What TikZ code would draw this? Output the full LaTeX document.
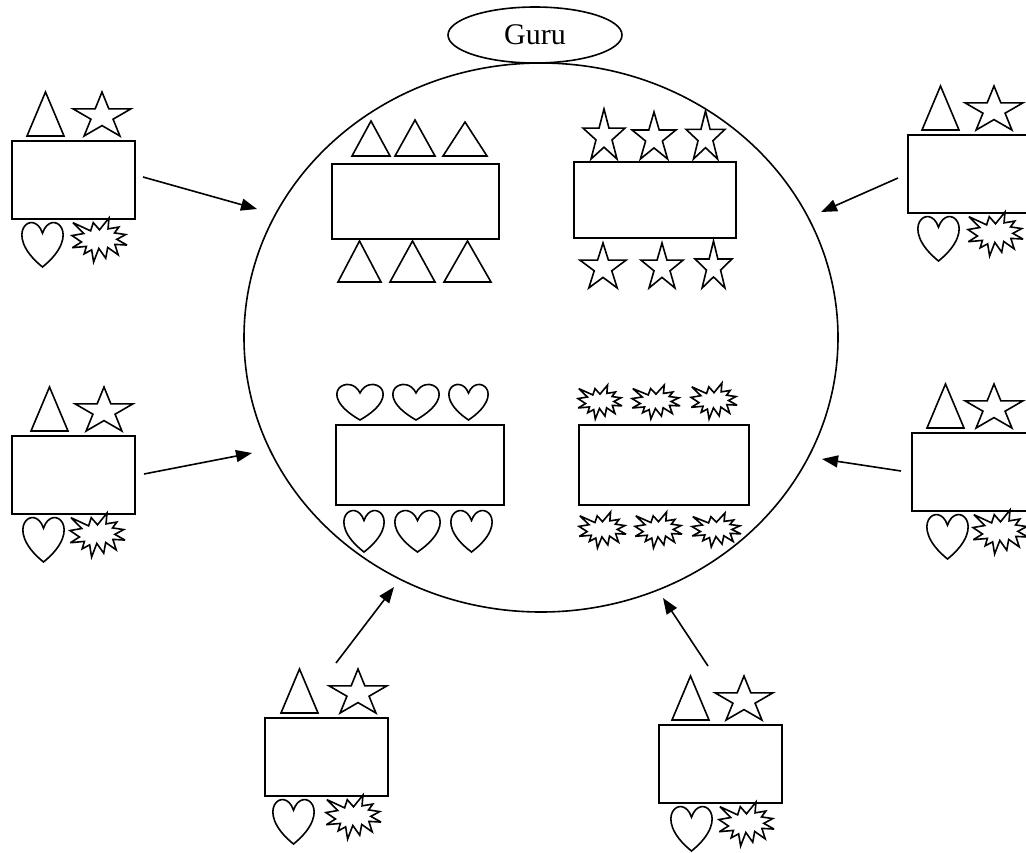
\documentclass[tikz,border=0pt]{standalone}
\usepackage{fontspec}
\setmainfont{Liberation Serif}
\usetikzlibrary{shapes.geometric,arrows.meta}
\tikzset{
  box/.style={draw, rectangle, inner sep=0pt},
  oval/.style={draw, ellipse, inner sep=0pt},
  arr/.style={-{Triangle[length=16pt,width=12pt]}},
  trianglepic/.pic={\draw[line join=miter] (0,1) -- (0.5,0) -- (1,1) -- cycle;},
  starpic/.pic={\draw[line join=miter] (0.5,0) -- (0.618,0.382) -- (1,0.382) -- (0.691,0.618) -- (0.809,1) -- (0.5,0.764) -- (0.191,1) -- (0.309,0.618) -- (0,0.382) -- (0.382,0.382) -- cycle;},
  heartpic/.pic={\draw (0.5,0.25) .. controls (0.7083,-0.3333) and (1.5208,0.25) .. (0.5,1) .. controls (-0.5208,0.25) and (0.2917,-0.3333) .. (0.5,0.25) -- cycle;},
  burstpic/.pic={\draw[line join=miter,miter limit=4] (0.5,0.2685) -- (0.6723,0) -- (0.6553,0.2465) -- (0.8509,0.2063) -- (0.7732,0.3387) -- (0.9767,0.3767) -- (0.8151,0.485) -- (1,0.6153) -- (0.7795,0.5992) -- (0.8400,0.8377) -- (0.6491,0.6693) -- (0.6133,0.9137) -- (0.4876,0.6914) -- (0.3928,1) -- (0.3572,0.7235) -- (0.2205,0.8156) -- (0.2624,0.6452) -- (0.00625,0.6753) -- (0.1723,0.5451) -- (0,0.3988) -- (0.2142,0.3526) -- (0.0171,0.1063) -- (0.3385,0.2926) -- (0.3867,0.1063) -- cycle;}
}
\newcommand\shp[5]{\pic[xscale={(#4)-(#2)}, yscale={(#5)-(#3)}] at ({#2},{#3}) {#1};}
\newcommand\grp[7]{% name, rx, ry, tri x, star x, heart x, burst x
  \node[box, minimum width=123pt, minimum height=78pt] (#1) at ({#2+61.5},{#3+39}) {};
  \shp{trianglepic}{#4}{#3-49}{#4+37}{#3-5}
  \shp{starpic}{#5}{#3-49}{#5+58}{#3-5}
  \shp{heartpic}{#6}{#3+81}{#6+41}{#3+126}
  \shp{burstpic}{#7}{#3+77}{#7+55}{#3+121}
}
\begin{document}
\begin{tikzpicture}[x=1pt,y=-1pt,line width=1.6pt]
\clip (0,0) rectangle (1026,852);
% main circle and guru
\node[oval, minimum width=594pt, minimum height=549pt] (class) at (541,337.5) {};
\node[oval, minimum width=174pt, minimum height=56pt, font=\fontsize{30}{36}\selectfont] (guru) at (535,35) {Guru};
% inner groups
\node[box, minimum width=167pt, minimum height=75pt] (tl) at (415.5,201.5) {};
\shp{trianglepic}{352}{121}{390}{156}
\shp{trianglepic}{395}{120}{435}{156}
\shp{trianglepic}{443}{122}{487}{156}
\shp{trianglepic}{338}{241}{381}{282}
\shp{trianglepic}{390}{241}{435}{282}
\shp{trianglepic}{444}{241}{491}{282}
\node[box, minimum width=162pt, minimum height=76pt] (tr) at (655,200) {};
\shp{starpic}{583}{109}{625}{159}
\shp{starpic}{632}{112}{676}{159}
\shp{starpic}{686}{111}{725}{159}
\shp{starpic}{580}{243}{626}{288}
\shp{starpic}{641}{243}{683}{288}
\shp{starpic}{695}{241}{732}{288}
\node[box, minimum width=168pt, minimum height=80pt] (bl) at (420,465) {};
\shp{heartpic}{337}{384}{383}{420}
\shp{heartpic}{393}{384}{439}{420}
\shp{heartpic}{449}{384}{488}{420}
\shp{heartpic}{344}{510}{384}{552}
\shp{heartpic}{395}{510}{440}{552}
\shp{heartpic}{451}{510}{492}{552}
\node[box, minimum width=170pt, minimum height=80pt] (br) at (664,465) {};
\shp{burstpic}{578}{385}{622}{419}
\shp{burstpic}{632}{385}{680}{419}
\shp{burstpic}{691}{383}{737}{419}
\shp{burstpic}{579}{512}{626}{548}
\shp{burstpic}{635}{512}{682}{548}
\shp{burstpic}{692}{513}{741}{547}
% outer groups
\grp{g1}{12}{141}{27}{73}{22}{72}
\grp{g2}{12}{436}{31}{75}{23}{70}
\grp{g3}{265}{718}{281}{329}{273}{326}
\grp{g4}{659}{725}{672}{715}{671}{719}
\grp{g5}{912}{433}{927}{965}{927}{973}
\grp{g6}{908}{135}{922}{965}{918}{968}
% arrows
\coordinate (a1s) at (143,177); \coordinate (a1e) at (257,209);
\coordinate (a2s) at (144,474); \coordinate (a2e) at (252,453);
\coordinate (a3s) at (336,663); \coordinate (a3e) at (394,587);
\coordinate (a4s) at (708,666); \coordinate (a4e) at (663,598);
\coordinate (a5s) at (901,471); \coordinate (a5e) at (822,459);
\coordinate (a6s) at (898,178); \coordinate (a6e) at (821,212);
\draw[arr] (a1s) -- (a1e);
\draw[arr] (a2s) -- (a2e);
\draw[arr] (a3s) -- (a3e);
\draw[arr] (a4s) -- (a4e);
\draw[arr] (a5s) -- (a5e);
\draw[arr] (a6s) -- (a6e);
\end{tikzpicture}
\end{document}
